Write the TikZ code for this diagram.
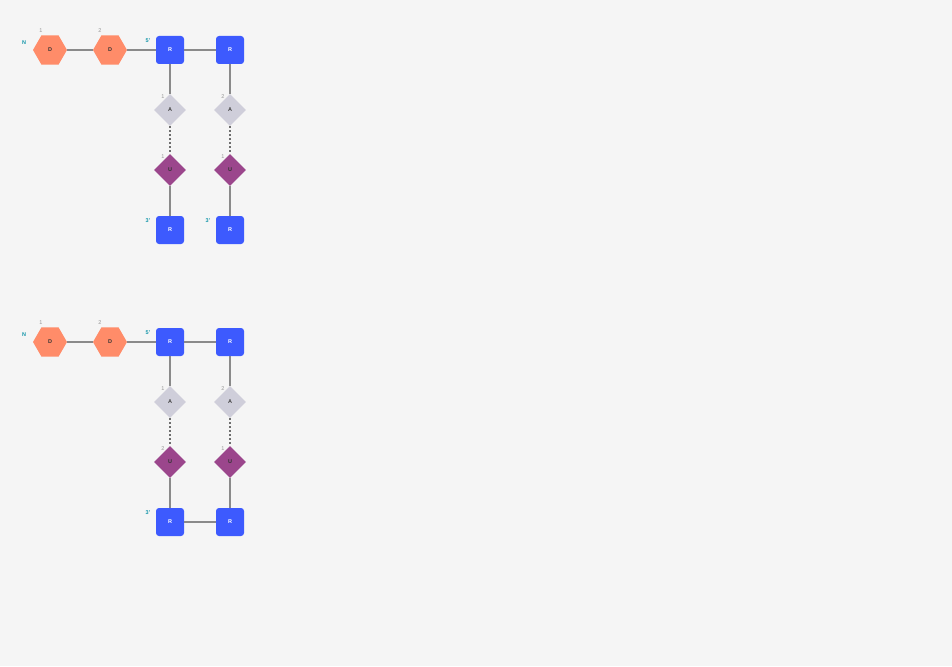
\documentclass[tikz,border=0pt]{standalone}
\usepackage{fontspec}
\setmainfont{Liberation Sans}
\usepackage{tikz}
\usetikzlibrary{shapes.geometric,positioning}
\definecolor{bgc}{RGB}{245,245,245}
\definecolor{hexF}{RGB}{255,140,105}
\definecolor{resF}{RGB}{61,90,254}
\definecolor{accF}{RGB}{207,206,218}
\definecolor{ubF}{RGB}{155,70,140}
\definecolor{bond}{RGB}{138,138,138}
\definecolor{dotc}{RGB}{110,110,110}
\definecolor{endc}{RGB}{20,150,170}
\definecolor{numc}{RGB}{150,150,150}
\tikzset{
  dmod/.style={regular polygon,regular polygon sides=6,minimum size=34pt,inner sep=0pt,
    fill=hexF,draw=none,font=\fontsize{5.5}{6}\selectfont\bfseries,text=black!80},
  res/.style={rectangle,rounded corners=3pt,minimum size=28pt,inner sep=0pt,
    fill=resF,draw=none,font=\fontsize{5.5}{6}\selectfont\bfseries,text=white},
  acc/.style={diamond,aspect=1,minimum width=32pt,minimum height=32pt,inner sep=0pt,
    fill=accF,draw=none,font=\fontsize{5.5}{6}\selectfont\bfseries,text=black!75},
  ubq/.style={diamond,aspect=1,minimum width=32pt,minimum height=32pt,inner sep=0pt,
    fill=ubF,draw=none,font=\fontsize{5.5}{6}\selectfont\bfseries,text=black!80},
  bnd/.style={draw=bond,line width=1.6pt},
  xl/.style={draw=dotc,line width=1.6pt,dash pattern=on 1.8pt off 2.2pt},
  endlab/.style={font=\fontsize{5.5}{6}\selectfont\bfseries,text=endc,inner sep=0pt},
  numlab/.style={font=\fontsize{5.5}{6}\selectfont,text=numc,inner sep=0pt},
}

\begin{document}
\begin{tikzpicture}[x=1pt,y=-1pt]
\fill[bgc] (0,0) rectangle (952,666);
\useasboundingbox (0,0) rectangle (952,666);
% two copies of the chain
\foreach \p/\oy/\ua/\ub in {t/0/1/1,b/292/2/1}{
  \begin{scope}[yshift=-\oy pt]
    \node[dmod] (\p d1) at (50,50) {D};
    \node[dmod] (\p d2) at (110,50) {D};
    \node[res] (\p r1) at (170,50) {R};
    \node[res] (\p r2) at (230,50) {R};
    \node[acc] (\p a1) at (170,110) {A};
    \node[acc] (\p a2) at (230,110) {A};
    \node[ubq] (\p u1) at (170,170) {U};
    \node[ubq] (\p u2) at (230,170) {U};
    \node[res] (\p r3) at (170,230) {R};
    \node[res] (\p r4) at (230,230) {R};
    % labels
    \node[endlab] (\p n) at (24,43) {N};
    \node[numlab] (\p l1) at (41,31) {1};
    \node[numlab] (\p l2) at (100,31) {2};
    \node[endlab] (\p f1) at (148,41) {5'};
    \node[numlab] (\p la1) at (163,97) {1};
    \node[numlab] (\p la2) at (223,97) {2};
    \node[numlab] (\p lu1) at (163,157) {\ua};
    \node[numlab] (\p lu2) at (223,157) {\ub};
    \node[endlab] (\p e1) at (148,221) {3'};
  \end{scope}
}
\node[endlab] (te2) at (208,221) {3'};
% bonds
\foreach \p in {t,b}{
  \draw[bnd] (\p d1) -- (\p d2);
  \draw[bnd] (\p d2) -- (\p r1);
  \draw[bnd] (\p r1) -- (\p r2);
  \draw[bnd] (\p r1) -- (\p a1);
  \draw[bnd] (\p r2) -- (\p a2);
  \draw[xl] (\p a1) -- (\p u1);
  \draw[xl] (\p a2) -- (\p u2);
  \draw[bnd] (\p u1) -- (\p r3);
  \draw[bnd] (\p u2) -- (\p r4);
}
\draw[bnd] (br3) -- (br4);
\end{tikzpicture}
\end{document}
